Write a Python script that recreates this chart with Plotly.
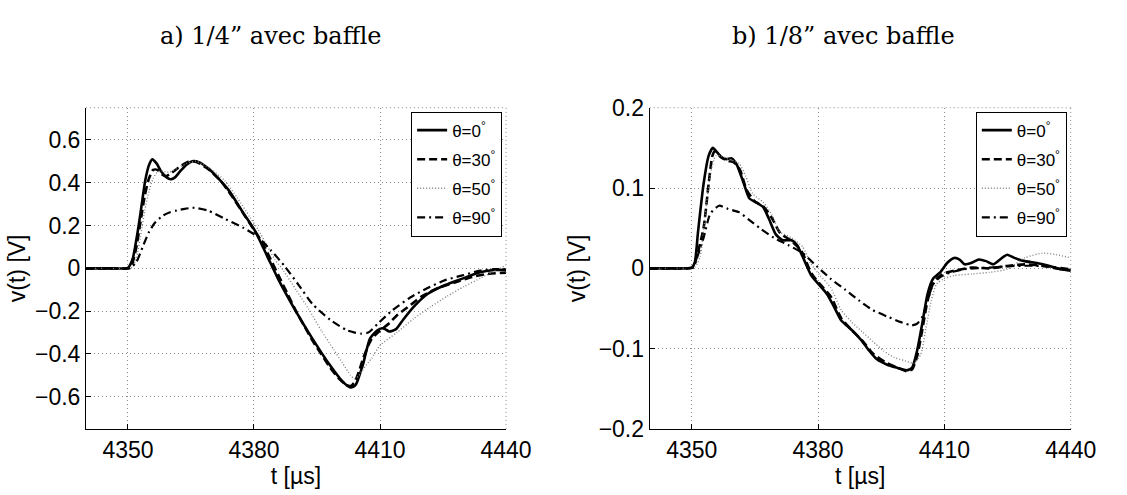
import plotly.graph_objects as go

# ---------------- data: panel a) 1/4" avec baffle ----------------
t_a0 = [4340, 4345, 4350, 4350.6, 4351.2, 4351.7, 4352.3, 4352.9, 4353.5, 4354.1, 4355.0, 4355.8, 4356.8, 4358,
        4359.2, 4360.1, 4361.2, 4362.5, 4364, 4365.3, 4367, 4369.1, 4371.5, 4374.0, 4377.4, 4380.3, 4383.2,
        4385.7, 4389.8, 4393.9, 4398.1, 4401.0, 4402.2, 4402.9, 4403.6, 4404.3, 4405.1, 4406.0, 4407.6, 4409.3,
        4410.5, 4411.3, 4412.2, 4413.8, 4415.5, 4418.0, 4421.3, 4425.5, 4429.6, 4433.8, 4437.1, 4440]
v_a0 = [0, 0, 0.002, 0.02, 0.05, 0.1, 0.17, 0.247, 0.33, 0.409, 0.482, 0.509, 0.49, 0.45,
        0.425, 0.416, 0.425, 0.455, 0.485, 0.5, 0.495, 0.467, 0.42, 0.364, 0.26, 0.173, 0.055,
        -0.048, -0.195, -0.328, -0.453, -0.527, -0.548, -0.556, -0.553, -0.541, -0.50, -0.445, -0.328, -0.29,
        -0.28, -0.285, -0.295, -0.284, -0.24, -0.18, -0.12, -0.078, -0.048, -0.018, -0.008, -0.007]

t_a30 = [4340, 4345, 4350.5, 4351, 4352, 4353, 4354, 4355, 4356, 4357, 4358, 4359, 4360, 4362, 4364, 4365.5,
         4367, 4369, 4372, 4375, 4378, 4380, 4382, 4384, 4386, 4388, 4390, 4392, 4394, 4396, 4398, 4400,
         4402, 4403, 4404, 4405, 4406, 4407, 4408, 4410, 4412, 4414, 4416, 4418, 4420, 4424, 4428, 4432,
         4436, 4440]
v_a30 = [0, 0, 0.002, 0.02, 0.1, 0.22, 0.34, 0.42, 0.46, 0.46, 0.44, 0.43, 0.44, 0.47, 0.495, 0.50,
         0.49, 0.465, 0.41, 0.33, 0.24, 0.18, 0.12, 0.04, -0.04, -0.12, -0.2, -0.27, -0.34, -0.4, -0.46, -0.51,
         -0.545, -0.55, -0.53, -0.48, -0.42, -0.37, -0.33, -0.29, -0.26, -0.22, -0.19, -0.16, -0.13, -0.09,
         -0.065, -0.04, -0.025, -0.02]

t_a50 = [4340, 4345, 4351, 4352, 4353, 4354, 4355, 4356, 4357, 4358, 4359, 4360, 4362, 4364, 4366, 4368,
         4370, 4373, 4376, 4379, 4381, 4383, 4385, 4387, 4390, 4393, 4396, 4399, 4401, 4403, 4404, 4405,
         4406, 4408, 4410, 4414, 4418, 4422, 4426, 4430, 4434, 4437, 4440]
v_a50 = [0, 0, 0.005, 0.05, 0.15, 0.27, 0.36, 0.42, 0.45, 0.455, 0.45, 0.45, 0.47, 0.49, 0.5, 0.485,
         0.46, 0.41, 0.33, 0.24, 0.18, 0.11, 0.04, -0.01, -0.1, -0.19, -0.29, -0.38, -0.44, -0.50, -0.515, -0.50,
         -0.47, -0.42, -0.36, -0.30, -0.235, -0.18, -0.13, -0.085, -0.045, -0.015, 0.015]

t_a90 = [4340, 4345, 4350.5, 4352, 4353.5, 4355, 4356.5, 4358.3, 4360, 4361.6, 4363.5, 4365.8, 4369, 4373.2,
         4377.4, 4380.7, 4384, 4387.3, 4390.6, 4393.9, 4398.1, 4402.2, 4404, 4405.5, 4407.2, 4409.7, 4413,
         4417.2, 4421.3, 4425.5, 4429.6, 4433.8, 4437.1, 4440]
v_a90 = [0, 0, 0.002, 0.03, 0.1, 0.17, 0.215, 0.246, 0.262, 0.27, 0.278, 0.283, 0.27, 0.23,
         0.19, 0.15, 0.085, 0.01, -0.077, -0.166, -0.24, -0.29, -0.30, -0.305, -0.30, -0.254, -0.195,
         -0.136, -0.092, -0.055, -0.033, -0.011, -0.004, -0.004]

# ---------------- data: panel b) 1/8" avec baffle ----------------
t_b0 = [4340, 4345, 4350, 4350.7, 4351.5, 4352.8, 4354.0, 4355.0, 4356.1, 4357.2, 4358.2, 4359.5, 4360.7, 4362.4,
        4363.7, 4365.4, 4367, 4368.3, 4370, 4371.6, 4373.7, 4375, 4376.3, 4378.4, 4380.5, 4382.1, 4383.8,
        4385.5, 4387.2, 4388.8, 4390.5, 4392.2, 4393.9, 4396.4, 4398.9, 4401, 4402.3, 4403.5, 4404.8, 4406,
        4407.3, 4409, 4410.7, 4412.3, 4413.6, 4414.8, 4416.5, 4418.2, 4419.9, 4421.6, 4423.7, 4424.9, 4426.6,
        4429.1, 4431.6, 4435, 4437.5, 4440]
v_b0 = [0, 0, 0.001, 0.007, 0.046, 0.105, 0.14, 0.15, 0.144, 0.138, 0.136, 0.137, 0.129, 0.105,
        0.087, 0.082, 0.076, 0.062, 0.042, 0.035, 0.035, 0.029, 0.015, -0.009, -0.022, -0.032, -0.048,
        -0.065, -0.073, -0.081, -0.091, -0.103, -0.113, -0.12, -0.124, -0.127, -0.124, -0.103, -0.067, -0.032,
        -0.013, -0.005, 0.007, 0.013, 0.011, 0.005, 0.007, 0.011, 0.009, 0.005, 0.013, 0.017, 0.013,
        0.009, 0.007, 0.003, -0.001, -0.002]

t_b30 = [4340, 4345, 4350.3, 4351, 4352.8, 4354, 4354.9, 4355.5, 4357, 4358.6, 4360, 4361.5, 4363, 4365,
         4367, 4369, 4371, 4373.7, 4376, 4378.4, 4380.5, 4383, 4385.5, 4388, 4390.5, 4393, 4396, 4399,
         4401, 4402.3, 4403.5, 4404.8, 4406, 4407.2, 4408.1, 4410, 4412.3, 4416.5, 4420.7, 4424.9, 4429.1,
         4433.3, 4436.6, 4440]
v_b30 = [0, 0, 0.001, 0.011, 0.05, 0.105, 0.14, 0.146, 0.138, 0.134, 0.132, 0.122, 0.098, 0.083,
         0.077, 0.063, 0.044, 0.034, 0.022, -0.006, -0.02, -0.035, -0.062, -0.077, -0.09, -0.106, -0.117, -0.124,
         -0.128, -0.126, -0.11, -0.075, -0.04, -0.02, -0.013, -0.006, -0.003, 0.001, 0.0, 0.003, 0.005,
         0.003, 0.0, -0.003]

t_b50 = [4340, 4345, 4350.8, 4352, 4353.2, 4354.4, 4355.7, 4357, 4358.6, 4361.2, 4362.8, 4364.5, 4367, 4369.1,
         4370.8, 4373.7, 4376.3, 4378.4, 4380.5, 4383, 4385.5, 4388, 4390.5, 4393, 4395.6, 4398.1, 4400.6,
         4402.7, 4404.4, 4405.6, 4406.9, 4408.1, 4409.8, 4412.3, 4416.5, 4420.7, 4424.9, 4429.1, 4433.3,
         4436.6, 4440]
v_b50 = [0, 0, 0.002, 0.015, 0.066, 0.117, 0.14, 0.14, 0.136, 0.131, 0.115, 0.093, 0.082, 0.066,
         0.046, 0.038, 0.027, 0.005, -0.009, -0.024, -0.052, -0.067, -0.079, -0.091, -0.103, -0.111, -0.115,
         -0.118, -0.107, -0.075, -0.04, -0.02, -0.013, -0.009, -0.007, -0.005, -0.001, 0.013, 0.019,
         0.017, 0.013]

t_b90 = [4340, 4345, 4350.3, 4350.7, 4352.8, 4354.4, 4356.5, 4358.6, 4361.2, 4363.7, 4366.2, 4369.5, 4372.9,
         4376.3, 4379.6, 4383, 4386.3, 4389.7, 4393, 4396.4, 4399.7, 4402.2, 4403.5, 4404.8, 4406, 4407.3,
         4409, 4411.5, 4414.8, 4420.7, 4426.6, 4433.3, 4440]
v_b90 = [0, 0, 0.001, 0.005, 0.038, 0.068, 0.078, 0.074, 0.07, 0.06, 0.05, 0.038, 0.029,
         0.019, 0.003, -0.013, -0.026, -0.04, -0.052, -0.06, -0.067, -0.071, -0.069, -0.06, -0.04, -0.02,
         -0.011, -0.005, -0.001, 0.001, 0.003, 0.003, -0.001]

labels = ["θ=0<sup>°</sup>", "θ=30<sup>°</sup>", "θ=50<sup>°</sup>", "θ=90<sup>°</sup>"]
titles = ["a) 1/4” avec baffle", "b) 1/8” avec baffle"]
x_ticks = [4350, 4380, 4410, 4440]
y_ticks_a = [-0.6, -0.4, -0.2, 0, 0.2, 0.4, 0.6]
y_ticks_b = [-0.2, -0.1, 0, 0.1, 0.2]

styles = [
    dict(color="black", width=2.6, dash="solid"),
    dict(color="black", width=2.6, dash="8px,4px"),
    dict(color="#808080", width=1.4, dash="1px,2px"),
    dict(color="black", width=2.2, dash="8px,4px,2px,4px"),
]

fig = go.Figure()
panels = [
    ([(t_a0, v_a0), (t_a30, v_a30), (t_a50, v_a50), (t_a90, v_a90)], "x", "y", "legend"),
    ([(t_b0, v_b0), (t_b30, v_b30), (t_b50, v_b50), (t_b90, v_b90)], "x2", "y2", "legend2"),
]
for series, xa, ya, lg in panels:
    for i, (tt, vv) in enumerate(series):
        fig.add_trace(go.Scatter(
            x=tt, y=vv, mode="lines", name=labels[i], xaxis=xa, yaxis=ya, legend=lg,
            legendgroup=f"{lg}{i}", line=dict(shape="spline", smoothing=0.6, **styles[i]),
        ))

W, H = 1127, 495
ydom = [1 - 439 / H, 1 - 100 / H]
font_sans = "Liberation Sans, Arial, sans-serif"
tickfont = dict(family=font_sans, size=23, color="black")
grid = dict(showgrid=True, gridcolor="#8c8c8c", griddash="1px,3px", gridwidth=1, zeroline=False,
            showline=True, linecolor="black", linewidth=1, ticks="inside", ticklen=5,
            tickcolor="black", tickfont=tickfont, mirror=False)

fig.update_layout(
    width=W, height=H, margin=dict(l=0, r=0, t=0, b=0),
    paper_bgcolor="white", plot_bgcolor="white", showlegend=True,
    xaxis=dict(domain=[88 / W, 518 / W], range=[4340, 4440], tickvals=x_ticks, anchor="y",
               title=dict(text="t [µs]", font=tickfont, standoff=0), **grid),
    yaxis=dict(domain=ydom, range=[-0.75, 0.75], tickvals=y_ticks_a, anchor="x",
               ticktext=[("−" if v < 0 else "") + (f"{abs(v):g}") for v in y_ticks_a],
               title=dict(text="v(t) [V]", font=tickfont, standoff=2), **grid),
    xaxis2=dict(domain=[665 / W, 1096 / W], range=[4340, 4440], tickvals=x_ticks, anchor="y2",
                title=dict(text="t [µs]", font=tickfont, standoff=0), **grid),
    yaxis2=dict(domain=ydom, range=[-0.2, 0.2], tickvals=y_ticks_b, anchor="x2",
                ticktext=[("−" if v < 0 else "") + (f"{abs(v):g}") for v in y_ticks_b],
                title=dict(text="v(t) [V]", font=tickfont, standoff=6), **grid),
)

legend_common = dict(bgcolor="white", bordercolor="black", borderwidth=1, xanchor="right", yanchor="top",
                     font=dict(family=font_sans, size=17, color="black"), tracegroupgap=4,
                     traceorder="grouped", itemwidth=30)
fig.update_layout(
    legend=dict(x=514 / W, y=1 - 104 / H, **legend_common),
    legend2=dict(x=1092 / W, y=1 - 104 / H, **legend_common),
)

# dotted top/right frame lines
for xr, yr in [("x domain", "y domain"), ("x2 domain", "y2 domain")]:
    fig.add_shape(type="line", xref=xr, yref=yr, x0=0, x1=1, y0=1, y1=1,
                  line=dict(color="#8c8c8c", width=1, dash="1px,3px"))
    fig.add_shape(type="line", xref=xr, yref=yr, x0=1, x1=1, y0=0, y1=1,
                  line=dict(color="#8c8c8c", width=1, dash="1px,3px"))

# panel titles
for xc, txt in [(277 / W, titles[0]), (863 / W, titles[1])]:
    fig.add_annotation(x=xc, y=1 - 24 / H, xref="paper", yref="paper", text=txt, showarrow=False,
                       xanchor="center", yanchor="middle",
                       font=dict(family="DejaVu Serif, serif", size=24, color="black"))

fig.write_html("out.html", config={"displayModeBar": False},
               post_script="document.body.style.margin='0';document.body.style.overflow='hidden';")
